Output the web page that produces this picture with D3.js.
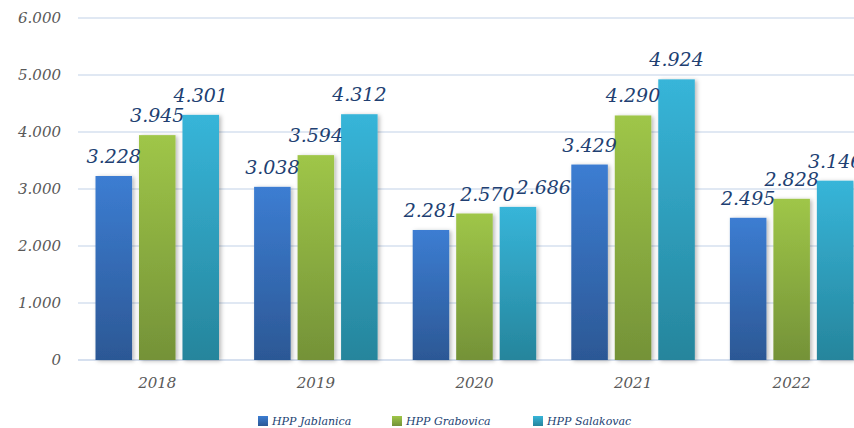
<!DOCTYPE html>
<html><head><meta charset="utf-8">
<script src="https://cdn.jsdelivr.net/npm/d3@7"></script>
<style>
html,body{margin:0;padding:0;background:#fff;}
svg{display:block;}
</style></head>
<body>
<script>
const years = ["2018","2019","2020","2021","2022"];
const seriesNames = ["HPP Jablanica","HPP Grabovica","HPP Salakovac"];
const jablanica = [3228, 3038, 2281, 3429, 2495];
const grabovica = [3945, 3594, 2570, 4290, 2828];
const salakovac = [4301, 4312, 2686, 4924, 3146];
const yTicks = [0, 1000, 2000, 3000, 4000, 5000, 6000];

const seriesValues = [jablanica, grabovica, salakovac];
const colors = [
  {top:"#3c7dd2", bot:"#2c5895"},
  {top:"#9fc648", bot:"#749238"},
  {top:"#37b5d9", bot:"#26859c"}
];

const W = 854, H = 428;
const svg = d3.select("body").append("svg").attr("width", W).attr("height", H);
const defs = svg.append("defs");
colors.forEach((c,i)=>{
  const g = defs.append("linearGradient").attr("id","g"+i).attr("x1",0).attr("y1",0).attr("x2",0).attr("y2",1);
  g.append("stop").attr("offset","0%").attr("stop-color",c.top);
  g.append("stop").attr("offset","100%").attr("stop-color",c.bot);
});
const f = defs.append("filter").attr("id","sh").attr("x","-20%").attr("y","-10%").attr("width","150%").attr("height","130%");
f.append("feDropShadow").attr("dx",2).attr("dy",1).attr("stdDeviation",2).attr("flood-color","#000").attr("flood-opacity",0.28);

const fmt = d3.formatLocale({decimal:",", thousands:".", grouping:[3], currency:["",""]}).format(",d");

const y = d3.scaleLinear().domain([0,6000]).range([360,18]);
const x0 = d3.scaleBand().domain(years).range([78, 871]).padding(0);
const x1 = d3.scaleBand().domain(d3.range(3)).range([17.5, 141]).paddingInner(0.16);

// gridlines
svg.append("g").selectAll("line").data(yTicks).join("line")
  .attr("x1",78).attr("x2",W).attr("y1",d=>y(d)).attr("y2",d=>y(d))
  .attr("stroke","#d6e0ef").attr("stroke-width",d=>d===0?2:1.5);

// y labels
svg.append("g").selectAll("text").data(yTicks).join("text")
  .attr("x",61).attr("y",d=>y(d)).attr("dy","0.36em")
  .attr("text-anchor","end")
  .attr("font-family","DejaVu Serif").attr("font-style","italic").attr("font-size",15)
  .attr("fill","#595959").text(d=>fmt(d));

// bars
const groups = svg.append("g").selectAll("g").data(years).join("g")
  .attr("transform",d=>`translate(${x0(d)},0)`);
groups.selectAll("rect").data((d,yi)=>seriesValues.map((s,si)=>({si, v:s[yi]}))).join("rect")
  .attr("x",d=>x1(d.si)).attr("width",x1.bandwidth())
  .attr("y",d=>y(d.v)).attr("height",d=>y(0)-y(d.v))
  .attr("fill",d=>`url(#g${d.si})`).attr("filter","url(#sh)");

groups.each(function(d, yi){
  const vals = seriesValues.map((s,si)=>({si, v:s[yi]}));
  const labels = d3.select(this).selectAll("text").data(vals).join("text")
    .attr("x",e=>x1(e.si)+x1.bandwidth()/2).attr("y",e=>y(e.v)-13)
    .attr("text-anchor","middle")
    .attr("font-family","DejaVu Serif").attr("font-style","italic").attr("font-size",19)
    .attr("fill","#213f72").text(e=>fmt(e.v));
  // simple collision avoidance: push later label right if it overlaps the previous one
  const nodes = labels.nodes();
  for (let i=1;i<nodes.length;i++){
    const a = nodes[i-1].getBBox(), b = nodes[i].getBBox();
    const vOver = a.y < b.y + b.height - 4 && b.y < a.y + a.height - 4;
    const hOver = a.x + a.width - b.x;
    if (vOver && hOver > 0){
      const sel = d3.select(nodes[i]);
      sel.attr("x", +sel.attr("x") + hOver + 1);
    }
  }
});

// x labels
svg.append("g").selectAll("text").data(years).join("text")
  .attr("x",d=>x0(d)+x0.bandwidth()/2).attr("y",388)
  .attr("text-anchor","middle")
  .attr("font-family","DejaVu Serif").attr("font-style","italic").attr("font-size",15)
  .attr("fill","#595959").text(d=>d);

// legend
const legX = [258, 392, 533];
const leg = svg.append("g").selectAll("g").data(seriesNames).join("g")
  .attr("transform",(d,i)=>`translate(${legX[i]},416)`);
leg.append("rect").attr("width",10).attr("height",10).attr("fill",(d,i)=>`url(#g${i})`);
leg.append("text").attr("x",14).attr("y",9)
  .attr("font-family","DejaVu Serif").attr("font-style","italic").attr("font-size",11)
  .attr("fill","#213f72").text(d=>d);
</script>
</body></html>
